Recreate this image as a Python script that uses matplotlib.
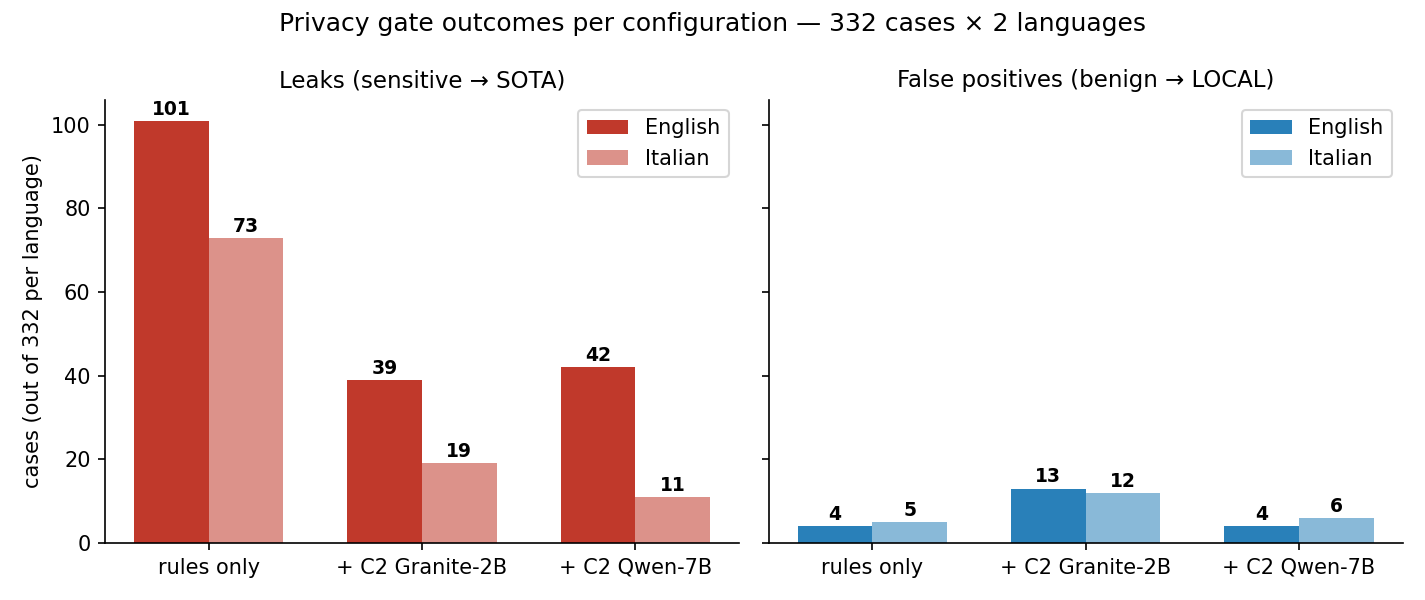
import numpy as np
import matplotlib.pyplot as plt

configs = ['rules only', '+ C2 Granite-2B', '+ C2 Qwen-7B']
leaks_en = [101, 39, 42]
leaks_it = [73, 19, 11]
fp_en = [4, 13, 4]
fp_it = [5, 12, 6]

fig, axes = plt.subplots(1, 2, figsize=(9.5, 4), dpi=150, sharey=True)
x = np.arange(len(configs))
w = 0.35

panels = [
    (axes[0], leaks_en, leaks_it, '#c0392b', 'Leaks (sensitive → SOTA)'),
    (axes[1], fp_en, fp_it, '#2980b9', 'False positives (benign → LOCAL)'),
]
for ax, en, it, color, title in panels:
    b1 = ax.bar(x - w / 2, en, w, color=color, label='English')
    b2 = ax.bar(x + w / 2, it, w, color=color, alpha=0.55, label='Italian')
    for bars in (b1, b2):
        ax.bar_label(bars, padding=1, fontsize=9, fontweight='bold')
    ax.set_xticks(x)
    ax.set_xticklabels(configs)
    ax.set_title(title, fontsize=11)
    ax.legend(fontsize=10)
    ax.spines['top'].set_visible(False)
    ax.spines['right'].set_visible(False)

axes[0].set_ylabel('cases (out of 332 per language)')
fig.suptitle('Privacy gate outcomes per configuration — 332 cases × 2 languages', fontsize=12)
fig.tight_layout()
fig.savefig('out.png')
